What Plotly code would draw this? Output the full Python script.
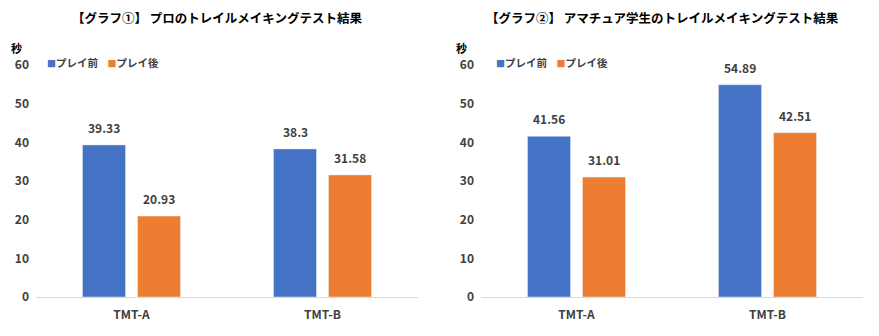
import plotly.graph_objects as go

categories = ["TMT-A", "TMT-B"]
pro_before = [39.33, 38.3]
pro_after = [20.93, 31.58]
ama_before = [41.56, 54.89]
ama_after = [31.01, 42.51]
series_names = ["プレイ前", "プレイ後"]
titles = ["【グラフ①】 プロのトレイルメイキングテスト結果",
          "【グラフ②】 アマチュア学生のトレイルメイキングテスト結果"]
y_ticks = [0, 10, 20, 30, 40, 50, 60]

BLUE = "#4472C4"
ORANGE = "#ED7D31"
FONT = "Noto Sans CJK JP"
TXT = "#404040"
BARGAP = 0.424
BARGROUPGAP = 0.218

W, H = 879, 336

fig = go.Figure()

data = [
    ("x", "y", pro_before, pro_after),
    ("x2", "y2", ama_before, ama_after),
]
lf = dict(family=FONT, size=12, color=TXT, weight="bold")
for xa, ya, b, a in data:
    for k, (name, vals, col) in enumerate([(series_names[0], b, BLUE), (series_names[1], a, ORANGE)]):
        fig.add_trace(go.Bar(
            x=categories, y=vals, name=name, marker_color=col,
            xaxis=xa, yaxis=ya, showlegend=False, cliponaxis=False,
        ))
        # data labels above each bar, placed through the axis scales
        off = (k - 0.5) * (1 - BARGAP) / 2
        for j, v in enumerate(vals):
            fig.add_annotation(text=f"{v:g}", xref=xa, yref=ya, x=j + off, y=v,
                               xanchor="center", yanchor="bottom", yshift=7,
                               showarrow=False, font=lf)

ydom = [(H - 297) / H, (H - 65) / H]
tf = dict(family=FONT, size=12, color=TXT, weight="bold")
xcommon = dict(showgrid=False, zeroline=False, showline=True, linecolor="#D9D9D9", linewidth=1,
               tickfont=tf, ticks="", automargin=False, ticklabelstandoff=7, fixedrange=True)
ycommon = dict(showgrid=False, zeroline=False, showline=False, range=[0, 60], tickvals=y_ticks,
               tickfont=tf, automargin=False, ticklabelstandoff=6, domain=ydom, fixedrange=True)
fig.update_layout(
    width=W, height=H,
    margin=dict(l=0, r=0, t=0, b=0, autoexpand=False),
    paper_bgcolor="white", plot_bgcolor="white",
    barmode="group", bargap=BARGAP, bargroupgap=BARGROUPGAP,
    font=dict(family=FONT, color=TXT, size=12),
    xaxis=dict(domain=[36 / W, 418 / W], anchor="y", **xcommon),
    xaxis2=dict(domain=[481 / W, 863 / W], anchor="y2", **xcommon),
    yaxis=dict(anchor="x", **ycommon),
    yaxis2=dict(anchor="x2", **ycommon),
    showlegend=False,
)

annots = [
    dict(text=titles[0], x=217 / W, y=(H - 17) / H),
    dict(text=titles[1], x=662 / W, y=(H - 17) / H),
]
for a in annots:
    fig.add_annotation(xref="paper", yref="paper", xanchor="center", yanchor="middle",
                       showarrow=False, font=dict(family=FONT, size=12.5, color="#000000", weight="bold"), **a)
for xp in [16 / W, 461 / W]:
    fig.add_annotation(text="秒", xref="paper", yref="paper", x=xp, y=(H - 48) / H,
                       xanchor="center", yanchor="middle", showarrow=False,
                       font=dict(family=FONT, size=11, color="#000000", weight="bold"))

# legends (one per chart)
legend_text = (f"<span style='color:{BLUE};font-size:9px'>■</span>{series_names[0]}"
               f"&nbsp;&nbsp;&nbsp;&nbsp;<span style='color:{ORANGE};font-size:9px'>■</span>{series_names[1]}")
for xp in [45 / W, 494 / W]:
    fig.add_annotation(text=legend_text, xref="paper", yref="paper", x=xp, y=(H - 62) / H,
                       xanchor="left", yanchor="middle", showarrow=False,
                       font=dict(family=FONT, size=10.5, color=TXT, weight="bold"))

fig.write_html("out.html")
